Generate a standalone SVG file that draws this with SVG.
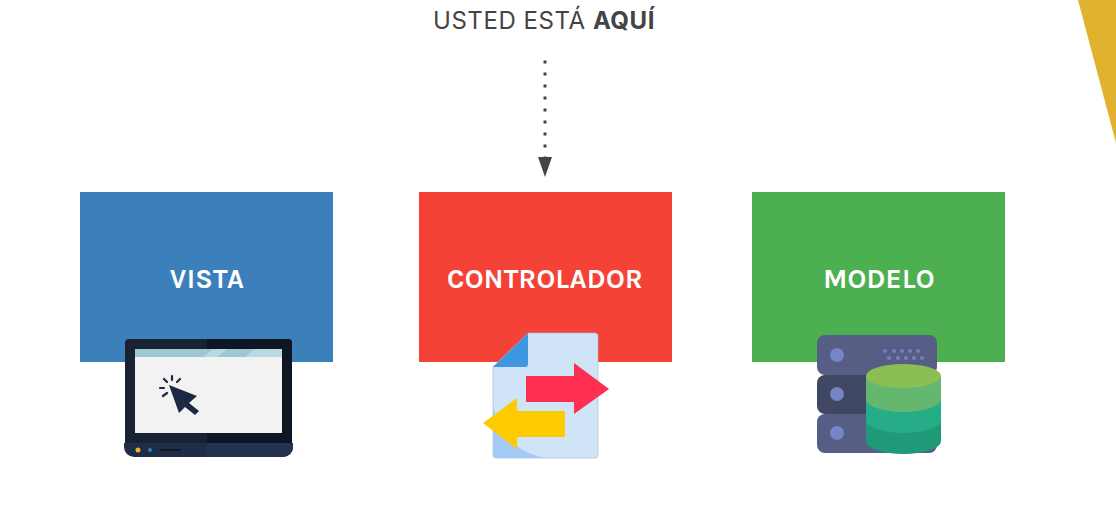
<svg xmlns="http://www.w3.org/2000/svg" width="1116" height="519" viewBox="0 0 1116 519">
<style>
.lbl{font-family:"Karla","Inter","Liberation Sans",sans-serif;font-weight:700;font-size:27.500px;fill:#fff;text-anchor:middle;letter-spacing:.25px}
.ttl{font-family:"Inter","Roboto",sans-serif;font-size:24px;letter-spacing:.55px;fill:#444}
</style>
<rect width="1116" height="519" fill="#fff"/>
<polygon id="corner" points="1078,0 1116,0 1116,143" fill="#e0b22f"/>
<text class="ttl" x="544" y="29" text-anchor="middle">USTED ESTÁ <tspan font-weight="700">AQUÍ</tspan></text>
<g id="connectors">
<line x1="545" y1="60.500" x2="545" y2="158" stroke="#444" stroke-width="3" stroke-dasharray="3 9"/>
<polygon points="538,157 552,157 545,177" fill="#444"/>
</g>
<g id="vista">
<rect x="80" y="192" width="253" height="170" fill="#3b80bb"/>
<text class="lbl" x="207" y="288">VISTA</text>
<rect x="125" y="339" width="167" height="108" rx="4" fill="#182232"/>
<path d="M207 339H288a4 4 0 0 1 4 4V447H207Z" fill="#0e1523"/>
<rect x="135" y="349" width="147" height="84" fill="#f2f2f2"/>
<rect x="135" y="349" width="147" height="8" fill="#9cc8d3"/>
<polygon points="203,357 213,349 227,349 218,357" fill="#b9d9e2"/>
<polygon points="245,357 254,349 282,349 282,357" fill="#b9d9e2"/>
<path d="M124 443H293V447a10 10 0 0 1-10 10H134a10 10 0 0 1-10-10Z" fill="#1f2d47"/>
<path d="M207 443H293V447a10 10 0 0 1-10 10H207Z" fill="#24334f"/>
<circle cx="138" cy="450" r="2.500" fill="#f0b030"/>
<circle cx="150" cy="450" r="2" fill="#2f80c0"/>
<rect x="160" y="449" width="21" height="2" fill="#0f1828"/>
<polygon points="169,385 197,396 189,403 199,411 195,415 185,407 179,413" fill="#1b2a42"/>
<g stroke="#1b2a42" stroke-width="2.200" stroke-linecap="round"><line x1="172" y1="376" x2="172" y2="380"/><line x1="164" y1="379" x2="167" y2="382"/><line x1="180" y1="379" x2="177" y2="382"/><line x1="160" y1="388" x2="164" y2="388"/><line x1="163" y1="396" x2="167" y2="393"/></g>
</g>
<g id="controlador">
<rect x="419" y="192" width="253" height="170" fill="#f44336"/>
<text class="lbl" x="545" y="288">CONTROLADOR</text>
<path d="M528 333H595a3 3 0 0 1 3 3V455a3 3 0 0 1-3 3H496a3 3 0 0 1-3-3V367Z" fill="#d0e4f7" stroke="#a9bdd2" stroke-width=".7"/>
<path d="M493 403C497 432 515 452 545 458H496a3 3 0 0 1-3-3Z" fill="#a3c9f5"/>
<path d="M528 333V364a3 3 0 0 1-3 3H493Z" fill="#3f97e0"/>
<polygon points="526,376 574,376 574,363 609,389 574,414 574,402 526,402" fill="#fe2f52"/>
<polygon points="565,411 517,411 517,398 483,423 517,449 517,437 565,437" fill="#fecb00"/>
</g>
<g id="modelo">
<rect x="752" y="192" width="253" height="170" fill="#4caf50"/>
<text class="lbl" x="879" y="288">MODELO</text>
<rect x="817" y="335" width="120" height="40" rx="8" fill="#565e85"/>
<rect x="817" y="375" width="120" height="39" rx="8" fill="#3f4762"/>
<rect x="817" y="414" width="120" height="39" rx="8" fill="#565e85"/>
<g fill="#7585c6"><circle cx="837" cy="355" r="7"/><circle cx="837" cy="394" r="7"/><circle cx="837" cy="433" r="7"/></g>
<g fill="#7181c0"><circle cx="885" cy="351" r="2"/><circle cx="894" cy="351" r="2"/><circle cx="902" cy="351" r="2"/><circle cx="910" cy="351" r="2"/><circle cx="918" cy="351" r="2"/><circle cx="889" cy="358" r="2"/><circle cx="898" cy="358" r="2"/><circle cx="906" cy="358" r="2"/><circle cx="914" cy="358" r="2"/><circle cx="922" cy="358" r="2"/></g>
<path d="M866 376V441A37.500 13 0 0 0 941 441V376Z" fill="#1f9a78"/>
<path d="M866 376V420A37.500 13 0 0 0 941 420V376Z" fill="#26ad87"/>
<path d="M866 376V399A37.500 13 0 0 0 941 399V376Z" fill="#63b76f"/>
<ellipse cx="903.500" cy="376" rx="37.500" ry="12" fill="#8cbf52"/>
</g>
</svg>
